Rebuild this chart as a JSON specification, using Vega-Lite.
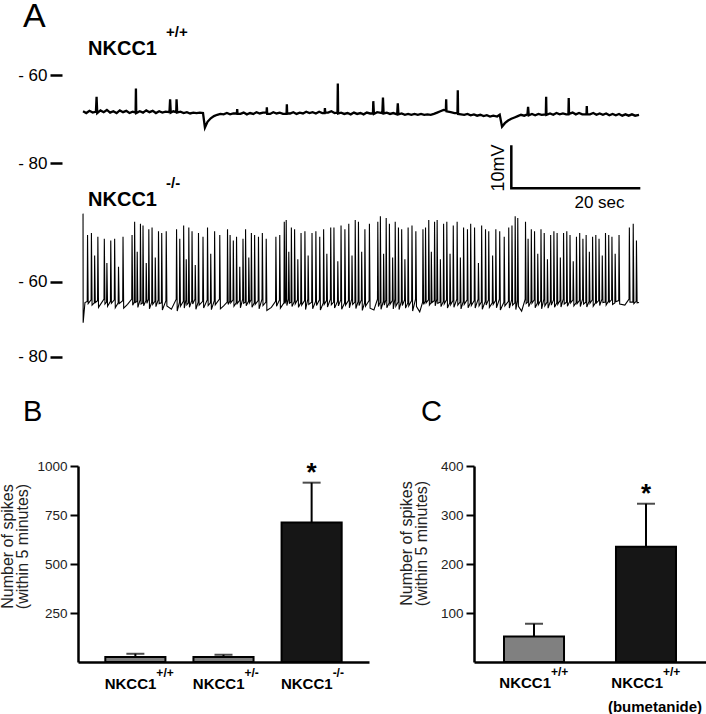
{
"$schema": "https://vega.github.io/schema/vega-lite/v6.json",
"autosize": {"type": "none"},
"padding": {"left": 78, "top": 40, "right": 628, "bottom": 674},
"background": "white",
"config": {"view": {"stroke": null}, "font": "Liberation Sans", "axis": {"labelFont": "Liberation Sans", "titleFont": "Liberation Sans", "grid": false}},
"bounds": "flush",
"spacing": 0,
"datasets": {
"a1": [{"t":0.0,"v":-68.2},{"t":0.5,"v":-68.6},{"t":1.0,"v":-68.1},{"t":1.5,"v":-68.5},{"t":2.0,"v":-68.3},{"t":2.1,"v":-64.9},{"t":2.2,"v":-68.6},{"t":2.7,"v":-68.0},{"t":3.2,"v":-68.4},{"t":3.7,"v":-67.9},{"t":4.2,"v":-68.5},{"t":4.7,"v":-68.2},{"t":5.2,"v":-68.6},{"t":5.7,"v":-68.0},{"t":6.2,"v":-68.4},{"t":6.7,"v":-68.1},{"t":7.2,"v":-68.6},{"t":7.7,"v":-68.3},{"t":8.15,"v":-68.5},{"t":8.2,"v":-63.0},{"t":8.25,"v":-68.6},{"t":8.8,"v":-68.2},{"t":9.3,"v":-68.5},{"t":9.8,"v":-68.0},{"t":10.3,"v":-68.4},{"t":10.8,"v":-68.1},{"t":11.3,"v":-68.6},{"t":11.8,"v":-68.2},{"t":12.3,"v":-68.5},{"t":12.8,"v":-68.3},{"t":13.4,"v":-68.4},{"t":13.5,"v":-65.5},{"t":13.6,"v":-68.5},{"t":14.0,"v":-68.2},{"t":14.45,"v":-68.4},{"t":14.5,"v":-65.5},{"t":14.6,"v":-68.5},{"t":15.1,"v":-68.3},{"t":15.6,"v":-68.6},{"t":16.1,"v":-68.4},{"t":16.6,"v":-68.7},{"t":17.1,"v":-68.5},{"t":17.6,"v":-68.6},{"t":18.1,"v":-68.5},{"t":18.6,"v":-68.6},{"t":18.9,"v":-71.9},{"t":19.3,"v":-70.6},{"t":19.8,"v":-69.8},{"t":20.3,"v":-69.3},{"t":20.8,"v":-69.0},{"t":21.3,"v":-68.8},{"t":21.8,"v":-68.9},{"t":22.3,"v":-68.6},{"t":22.8,"v":-68.9},{"t":23.3,"v":-68.7},{"t":23.85,"v":-68.7},{"t":23.9,"v":-67.7},{"t":23.95,"v":-68.8},{"t":24.4,"v":-68.8},{"t":24.9,"v":-68.5},{"t":25.4,"v":-68.9},{"t":25.9,"v":-68.6},{"t":26.4,"v":-68.8},{"t":26.9,"v":-68.4},{"t":27.4,"v":-68.7},{"t":27.9,"v":-68.5},{"t":28.45,"v":-68.5},{"t":28.5,"v":-67.3},{"t":28.55,"v":-68.8},{"t":29.0,"v":-68.8},{"t":29.5,"v":-68.4},{"t":30.0,"v":-68.7},{"t":30.5,"v":-68.5},{"t":31.0,"v":-68.8},{"t":31.55,"v":-68.8},{"t":31.6,"v":-66.6},{"t":31.65,"v":-68.7},{"t":32.1,"v":-68.7},{"t":32.6,"v":-68.4},{"t":33.1,"v":-68.8},{"t":33.6,"v":-68.5},{"t":34.1,"v":-68.7},{"t":34.6,"v":-68.3},{"t":35.1,"v":-68.6},{"t":35.6,"v":-68.4},{"t":36.1,"v":-68.7},{"t":36.6,"v":-68.3},{"t":37.1,"v":-68.6},{"t":37.45,"v":-68.6},{"t":37.5,"v":-67.5},{"t":37.55,"v":-68.5},{"t":38.0,"v":-68.5},{"t":38.5,"v":-68.2},{"t":39.0,"v":-68.6},{"t":39.45,"v":-68.5},{"t":39.5,"v":-61.9},{"t":39.55,"v":-68.7},{"t":40.0,"v":-68.5},{"t":40.5,"v":-68.8},{"t":41.0,"v":-68.6},{"t":41.5,"v":-68.9},{"t":42.0,"v":-68.5},{"t":42.5,"v":-68.8},{"t":43.0,"v":-68.6},{"t":43.5,"v":-68.9},{"t":44.0,"v":-68.5},{"t":44.5,"v":-68.7},{"t":44.95,"v":-68.7},{"t":45.0,"v":-65.9},{"t":45.1,"v":-68.8},{"t":45.6,"v":-68.4},{"t":46.4,"v":-68.6},{"t":46.5,"v":-65.1},{"t":46.6,"v":-68.7},{"t":47.1,"v":-68.5},{"t":47.6,"v":-68.8},{"t":48.1,"v":-68.6},{"t":48.7,"v":-68.9},{"t":48.8,"v":-66.4},{"t":48.9,"v":-68.9},{"t":49.4,"v":-68.7},{"t":49.9,"v":-69.0},{"t":50.4,"v":-68.8},{"t":50.9,"v":-69.0},{"t":51.4,"v":-68.8},{"t":51.9,"v":-69.0},{"t":52.4,"v":-68.8},{"t":52.9,"v":-69.0},{"t":53.4,"v":-68.9},{"t":53.9,"v":-69.0},{"t":54.4,"v":-68.8},{"t":54.9,"v":-68.5},{"t":55.4,"v":-68.2},{"t":55.9,"v":-67.9},{"t":56.25,"v":-68.0},{"t":56.3,"v":-65.5},{"t":56.35,"v":-68.2},{"t":57.0,"v":-68.4},{"t":57.6,"v":-68.6},{"t":58.05,"v":-68.6},{"t":58.1,"v":-63.4},{"t":58.15,"v":-68.8},{"t":58.6,"v":-68.9},{"t":59.1,"v":-69.0},{"t":59.6,"v":-68.8},{"t":60.1,"v":-69.1},{"t":60.6,"v":-68.9},{"t":61.1,"v":-69.2},{"t":61.6,"v":-69.0},{"t":62.1,"v":-69.3},{"t":62.6,"v":-69.1},{"t":63.1,"v":-69.4},{"t":63.6,"v":-69.2},{"t":64.2,"v":-69.4},{"t":64.6,"v":-69.0},{"t":64.96,"v":-71.7},{"t":65.4,"v":-70.9},{"t":65.9,"v":-70.3},{"t":66.4,"v":-69.9},{"t":66.9,"v":-69.6},{"t":67.4,"v":-69.3},{"t":67.9,"v":-69.0},{"t":68.4,"v":-69.2},{"t":68.9,"v":-68.9},{"t":69.0,"v":-67.2},{"t":69.1,"v":-69.1},{"t":69.6,"v":-68.8},{"t":70.1,"v":-69.1},{"t":70.6,"v":-68.8},{"t":71.1,"v":-69.0},{"t":71.75,"v":-68.9},{"t":71.8,"v":-64.9},{"t":71.85,"v":-69.0},{"t":72.4,"v":-68.7},{"t":72.9,"v":-69.0},{"t":73.4,"v":-68.6},{"t":73.9,"v":-68.9},{"t":74.4,"v":-68.7},{"t":74.9,"v":-68.9},{"t":75.25,"v":-68.9},{"t":75.3,"v":-65.2},{"t":75.35,"v":-68.8},{"t":75.9,"v":-68.5},{"t":76.4,"v":-68.9},{"t":76.9,"v":-68.6},{"t":77.4,"v":-68.9},{"t":78.05,"v":-68.9},{"t":78.1,"v":-67.0},{"t":78.15,"v":-68.9},{"t":78.6,"v":-68.9},{"t":79.1,"v":-68.6},{"t":79.6,"v":-69.0},{"t":80.1,"v":-68.7},{"t":80.6,"v":-69.0},{"t":81.1,"v":-68.7},{"t":81.6,"v":-69.1},{"t":82.1,"v":-68.8},{"t":82.6,"v":-69.1},{"t":83.1,"v":-68.8},{"t":83.6,"v":-69.2},{"t":84.1,"v":-68.9},{"t":84.6,"v":-69.2},{"t":85.1,"v":-68.9},{"t":85.6,"v":-69.2},{"t":86.2,"v":-69.0}],
"a2": [{"t":0,"v":-41.8},{"t":0.02,"v":-70.9},{"t":0.3,"v":-65.5},
{"t":0.65,"v":-65.2},{"t":0.7,"v":-47.5},{"t":0.8,"v":-65.8},{"t":1.25,"v":-64.8},{"t":1.3,"v":-47.0},{"t":1.4,"v":-66.2},{"t":1.75,"v":-65.6},{"t":1.8,"v":-53.0},{"t":1.9,"v":-65.5},{"t":2.25,"v":-65.0},{"t":2.3,"v":-48.0},{"t":2.4,"v":-66.8},{"t":3.25,"v":-64.6},{"t":3.3,"v":-48.5},{"t":3.4,"v":-65.9},{"t":3.65,"v":-65.4},{"t":3.7,"v":-55.0},{"t":3.8,"v":-66.5},{"t":4.25,"v":-65.2},{"t":4.3,"v":-49.0},{"t":4.4,"v":-65.7},{"t":4.85,"v":-64.8},{"t":4.9,"v":-48.5},{"t":5.0,"v":-66.9},{"t":5.45,"v":-65.6},{"t":5.5,"v":-56.0},{"t":5.6,"v":-65.8},{"t":6.15,"v":-65.0},{"t":6.2,"v":-48.0},{"t":6.3,"v":-67.0},{"t":6.9,"v":-66.0},
{"t":7.55,"v":-64.6},{"t":7.6,"v":-47.5},{"t":7.7,"v":-66.2},{"t":7.95,"v":-65.4},{"t":8.0,"v":-44.0},{"t":8.1,"v":-65.5},{"t":8.35,"v":-65.2},{"t":8.4,"v":-52.0},{"t":8.5,"v":-66.8},{"t":8.85,"v":-64.8},{"t":8.9,"v":-44.5},{"t":9.0,"v":-65.9},{"t":9.25,"v":-65.6},{"t":9.3,"v":-45.0},{"t":9.4,"v":-66.4},{"t":9.75,"v":-65.0},{"t":9.8,"v":-55.0},{"t":9.9,"v":-65.7},{"t":10.15,"v":-64.6},{"t":10.2,"v":-46.0},{"t":10.3,"v":-67.2},{"t":10.65,"v":-65.4},{"t":10.7,"v":-45.5},{"t":10.8,"v":-66.0},{"t":11.15,"v":-65.2},{"t":11.2,"v":-53.5},{"t":11.3,"v":-66.6},{"t":11.65,"v":-64.8},{"t":11.7,"v":-46.5},{"t":11.8,"v":-65.8},{"t":12.15,"v":-65.6},{"t":12.2,"v":-47.0},{"t":12.3,"v":-67.5},{"t":12.85,"v":-65.0},{"t":12.9,"v":-46.5},{"t":13.0,"v":-66.4},{"t":13.7,"v":-67.3},
{"t":14.45,"v":-64.6},{"t":14.5,"v":-46.0},{"t":14.6,"v":-67.8},{"t":14.95,"v":-65.4},{"t":15.0,"v":-48.5},{"t":15.1,"v":-66.5},{"t":15.55,"v":-65.2},{"t":15.6,"v":-45.0},{"t":15.7,"v":-67.0},{"t":15.95,"v":-64.8},{"t":16.0,"v":-54.0},{"t":16.1,"v":-66.1},{"t":16.35,"v":-65.6},{"t":16.4,"v":-45.5},{"t":16.5,"v":-66.8},{"t":16.85,"v":-65.0},{"t":16.9,"v":-46.5},{"t":17.0,"v":-65.9},{"t":17.35,"v":-64.6},{"t":17.4,"v":-55.5},{"t":17.5,"v":-67.3},{"t":17.85,"v":-65.4},{"t":17.9,"v":-47.0},{"t":18.0,"v":-66.2},{"t":18.55,"v":-65.2},{"t":18.6,"v":-48.0},{"t":18.7,"v":-67.0},{"t":19.25,"v":-64.8},{"t":19.3,"v":-45.5},{"t":19.4,"v":-66.3},{"t":19.75,"v":-65.6},{"t":19.8,"v":-52.5},{"t":19.9,"v":-67.4},{"t":20.35,"v":-65.0},{"t":20.4,"v":-46.5},{"t":20.5,"v":-66.1},{"t":21.15,"v":-64.6},{"t":21.2,"v":-47.5},{"t":21.3,"v":-67.2},{"t":21.8,"v":-66.4},
{"t":22.35,"v":-65.4},{"t":22.4,"v":-46.0},{"t":22.5,"v":-66.0},{"t":22.75,"v":-65.2},{"t":22.8,"v":-47.5},{"t":22.9,"v":-65.6},{"t":23.25,"v":-64.8},{"t":23.3,"v":-49.0},{"t":23.4,"v":-66.5},{"t":23.75,"v":-65.6},{"t":23.8,"v":-48.0},{"t":23.9,"v":-65.8},{"t":24.25,"v":-65.0},{"t":24.3,"v":-56.0},{"t":24.4,"v":-66.9},{"t":24.75,"v":-64.6},{"t":24.8,"v":-48.5},{"t":24.9,"v":-65.7},{"t":25.15,"v":-65.4},{"t":25.2,"v":-46.0},{"t":25.3,"v":-66.4},{"t":25.65,"v":-65.2},{"t":25.7,"v":-53.5},{"t":25.8,"v":-65.6},{"t":26.05,"v":-64.8},{"t":26.1,"v":-47.0},{"t":26.2,"v":-66.8},{"t":26.55,"v":-65.6},{"t":26.6,"v":-47.5},{"t":26.7,"v":-66.0},{"t":27.15,"v":-65.0},{"t":27.2,"v":-48.0},{"t":27.3,"v":-67.2},{"t":27.75,"v":-64.6},{"t":27.8,"v":-47.0},{"t":27.9,"v":-66.3},{"t":28.35,"v":-65.4},{"t":28.4,"v":-48.5},{"t":28.5,"v":-67.6},{"t":29.2,"v":-66.8},
{"t":29.85,"v":-65.2},{"t":29.9,"v":-48.0},{"t":30.0,"v":-66.5},{"t":30.45,"v":-64.8},{"t":30.5,"v":-47.5},{"t":30.6,"v":-67.0},{"t":31.15,"v":-65.6},{"t":31.2,"v":-44.0},{"t":31.3,"v":-65.8},{"t":31.45,"v":-65.0},{"t":31.5,"v":-43.5},{"t":31.6,"v":-66.3},{"t":31.85,"v":-64.6},{"t":31.9,"v":-52.0},{"t":32.0,"v":-65.7},{"t":32.25,"v":-65.4},{"t":32.3,"v":-45.5},{"t":32.4,"v":-66.6},{"t":32.75,"v":-65.2},{"t":32.8,"v":-46.0},{"t":32.9,"v":-65.9},{"t":33.25,"v":-64.8},{"t":33.3,"v":-54.0},{"t":33.4,"v":-66.8},{"t":33.75,"v":-65.6},{"t":33.8,"v":-47.0},{"t":33.9,"v":-66.2},{"t":34.35,"v":-65.0},{"t":34.4,"v":-46.5},{"t":34.5,"v":-67.4},{"t":34.85,"v":-64.6},{"t":34.9,"v":-53.0},{"t":35.0,"v":-66.0},{"t":35.45,"v":-65.4},{"t":35.5,"v":-47.0},{"t":35.6,"v":-67.2},{"t":36.05,"v":-65.2},{"t":36.1,"v":-46.5},{"t":36.2,"v":-66.3},{"t":36.65,"v":-64.8},{"t":36.7,"v":-48.0},{"t":36.8,"v":-67.5},{"t":37.25,"v":-65.6},{"t":37.3,"v":-46.0},{"t":37.4,"v":-66.0},{"t":37.75,"v":-65.0},{"t":37.8,"v":-52.5},{"t":37.9,"v":-66.7},{"t":38.35,"v":-64.6},{"t":38.4,"v":-45.5},{"t":38.5,"v":-66.1},{"t":38.85,"v":-65.4},{"t":38.9,"v":-45.5},{"t":39.0,"v":-67.0},{"t":39.45,"v":-65.2},{"t":39.5,"v":-54.5},{"t":39.6,"v":-66.4},{"t":39.95,"v":-64.8},{"t":40.0,"v":-45.0},{"t":40.1,"v":-67.3},{"t":40.55,"v":-65.6},{"t":40.6,"v":-46.0},{"t":40.7,"v":-66.2},{"t":41.15,"v":-65.0},{"t":41.2,"v":-44.5},{"t":41.3,"v":-66.9},{"t":41.65,"v":-64.6},{"t":41.7,"v":-53.0},{"t":41.8,"v":-66.0},{"t":42.15,"v":-65.4},{"t":42.2,"v":-43.5},{"t":42.3,"v":-67.1},{"t":42.65,"v":-65.2},{"t":42.7,"v":-44.0},{"t":42.8,"v":-66.3},{"t":43.15,"v":-64.8},{"t":43.2,"v":-52.0},{"t":43.3,"v":-67.6},{"t":43.65,"v":-65.6},{"t":43.7,"v":-46.0},{"t":43.8,"v":-66.5},{"t":44.35,"v":-65.0},{"t":44.4,"v":-44.5},{"t":44.5,"v":-67.0},{"t":45.1,"v":-67.5},
{"t":45.65,"v":-64.6},{"t":45.7,"v":-44.0},{"t":45.8,"v":-66.6},{"t":46.05,"v":-65.4},{"t":46.1,"v":-42.5},{"t":46.2,"v":-67.3},{"t":46.55,"v":-65.2},{"t":46.6,"v":-52.5},{"t":46.7,"v":-66.2},{"t":46.95,"v":-64.8},{"t":47.0,"v":-43.0},{"t":47.1,"v":-66.9},{"t":47.45,"v":-65.6},{"t":47.5,"v":-44.5},{"t":47.6,"v":-66.0},{"t":47.95,"v":-65.0},{"t":48.0,"v":-53.5},{"t":48.1,"v":-67.2},{"t":48.35,"v":-64.6},{"t":48.4,"v":-44.0},{"t":48.5,"v":-66.5},{"t":48.85,"v":-65.4},{"t":48.9,"v":-45.5},{"t":49.0,"v":-67.4},{"t":49.35,"v":-65.2},{"t":49.4,"v":-46.0},{"t":49.5,"v":-66.3},{"t":49.85,"v":-64.8},{"t":49.9,"v":-54.0},{"t":50.0,"v":-67.0},{"t":50.35,"v":-65.6},{"t":50.4,"v":-45.5},{"t":50.5,"v":-66.4},{"t":50.95,"v":-65.0},{"t":51.0,"v":-45.0},{"t":51.1,"v":-67.8},{"t":51.55,"v":-64.6},{"t":51.6,"v":-46.5},{"t":51.7,"v":-66.6},{"t":52.2,"v":-68.0},
{"t":52.65,"v":-65.4},{"t":52.7,"v":-46.0},{"t":52.8,"v":-66.0},{"t":53.05,"v":-65.2},{"t":53.1,"v":-45.5},{"t":53.2,"v":-65.6},{"t":53.55,"v":-64.8},{"t":53.6,"v":-43.5},{"t":53.7,"v":-66.2},{"t":53.95,"v":-65.6},{"t":54.0,"v":-52.0},{"t":54.1,"v":-65.5},{"t":54.45,"v":-65.0},{"t":54.5,"v":-44.0},{"t":54.6,"v":-66.4},{"t":54.85,"v":-64.6},{"t":54.9,"v":-43.5},{"t":55.0,"v":-65.7},{"t":55.35,"v":-65.4},{"t":55.4,"v":-54.0},{"t":55.5,"v":-66.6},{"t":55.85,"v":-65.2},{"t":55.9,"v":-44.5},{"t":56.0,"v":-65.9},{"t":56.35,"v":-64.8},{"t":56.4,"v":-44.0},{"t":56.5,"v":-67.0},{"t":56.85,"v":-65.6},{"t":56.9,"v":-52.5},{"t":57.0,"v":-66.1},{"t":57.35,"v":-65.0},{"t":57.4,"v":-45.0},{"t":57.5,"v":-66.8},{"t":57.95,"v":-64.6},{"t":58.0,"v":-44.0},{"t":58.1,"v":-66.2},{"t":58.45,"v":-65.4},{"t":58.5,"v":-53.5},{"t":58.6,"v":-67.2},{"t":58.95,"v":-65.2},{"t":59.0,"v":-45.5},{"t":59.1,"v":-66.0},{"t":59.55,"v":-64.8},{"t":59.6,"v":-46.0},{"t":59.7,"v":-66.9},{"t":60.05,"v":-65.6},{"t":60.1,"v":-44.5},{"t":60.2,"v":-66.3},{"t":60.65,"v":-65.0},{"t":60.7,"v":-45.5},{"t":60.8,"v":-67.0},{"t":61.25,"v":-64.6},{"t":61.3,"v":-55.0},{"t":61.4,"v":-66.4},{"t":61.75,"v":-65.4},{"t":61.8,"v":-45.0},{"t":61.9,"v":-67.3},{"t":62.35,"v":-65.2},{"t":62.4,"v":-46.0},{"t":62.5,"v":-66.2},{"t":62.85,"v":-64.8},{"t":62.9,"v":-46.5},{"t":63.0,"v":-66.8},{"t":63.45,"v":-65.6},{"t":63.5,"v":-53.0},{"t":63.6,"v":-66.0},{"t":63.95,"v":-65.0},{"t":64.0,"v":-46.0},{"t":64.1,"v":-66.9},{"t":64.55,"v":-64.6},{"t":64.6,"v":-46.5},{"t":64.7,"v":-67.5},{"t":65.25,"v":-65.4},{"t":65.3,"v":-48.0},{"t":65.4,"v":-66.4},{"t":65.95,"v":-65.2},{"t":66.0,"v":-45.5},{"t":66.1,"v":-67.0},{"t":66.45,"v":-64.8},{"t":66.5,"v":-45.0},{"t":66.6,"v":-66.2},{"t":66.95,"v":-65.6},{"t":67.0,"v":-42.5},{"t":67.1,"v":-67.4},{"t":67.35,"v":-65.0},{"t":67.4,"v":-43.0},{"t":67.5,"v":-66.5},{"t":68.0,"v":-67.8},
{"t":68.55,"v":-64.6},{"t":68.6,"v":-44.0},{"t":68.7,"v":-65.8},{"t":68.95,"v":-65.4},{"t":69.0,"v":-48.5},{"t":69.1,"v":-66.6},{"t":69.45,"v":-65.2},{"t":69.5,"v":-46.0},{"t":69.6,"v":-65.7},{"t":69.95,"v":-64.8},{"t":70.0,"v":-46.5},{"t":70.1,"v":-66.9},{"t":70.45,"v":-65.6},{"t":70.5,"v":-52.5},{"t":70.6,"v":-66.1},{"t":70.95,"v":-65.0},{"t":71.0,"v":-46.0},{"t":71.1,"v":-67.2},{"t":71.45,"v":-64.6},{"t":71.5,"v":-47.0},{"t":71.6,"v":-66.4},{"t":71.95,"v":-65.4},{"t":72.0,"v":-54.0},{"t":72.1,"v":-67.0},{"t":72.45,"v":-65.2},{"t":72.5,"v":-47.5},{"t":72.6,"v":-66.2},{"t":72.95,"v":-64.8},{"t":73.0,"v":-46.5},{"t":73.1,"v":-66.8},{"t":73.45,"v":-65.6},{"t":73.5,"v":-47.0},{"t":73.6,"v":-66.0},{"t":73.95,"v":-65.0},{"t":74.0,"v":-53.5},{"t":74.1,"v":-66.7},{"t":74.45,"v":-64.6},{"t":74.5,"v":-47.0},{"t":74.6,"v":-65.9},{"t":74.95,"v":-65.4},{"t":75.0,"v":-46.5},{"t":75.1,"v":-66.5},{"t":75.45,"v":-65.2},{"t":75.5,"v":-47.5},{"t":75.6,"v":-65.6},{"t":75.95,"v":-64.8},{"t":76.0,"v":-54.5},{"t":76.1,"v":-66.4},{"t":76.45,"v":-65.6},{"t":76.5,"v":-48.0},{"t":76.6,"v":-65.8},{"t":76.95,"v":-65.0},{"t":77.0,"v":-47.0},{"t":77.1,"v":-66.6},{"t":77.45,"v":-64.6},{"t":77.5,"v":-48.5},{"t":77.6,"v":-65.9},{"t":77.95,"v":-65.4},{"t":78.0,"v":-47.5},{"t":78.1,"v":-66.7},{"t":78.45,"v":-65.2},{"t":78.5,"v":-52.0},{"t":78.6,"v":-65.7},{"t":78.95,"v":-64.8},{"t":79.0,"v":-48.0},{"t":79.1,"v":-66.5},{"t":79.45,"v":-65.6},{"t":79.5,"v":-47.5},{"t":79.6,"v":-65.6},{"t":79.95,"v":-65.0},{"t":80.0,"v":-48.5},{"t":80.1,"v":-66.3},{"t":80.45,"v":-64.6},{"t":80.5,"v":-53.0},{"t":80.6,"v":-65.5},{"t":80.95,"v":-65.4},{"t":81.0,"v":-47.0},{"t":81.1,"v":-66.2},{"t":81.45,"v":-65.2},{"t":81.5,"v":-47.5},{"t":81.6,"v":-65.4},{"t":81.95,"v":-64.8},{"t":82.0,"v":-48.0},{"t":82.1,"v":-66.0},{"t":82.45,"v":-65.6},{"t":82.5,"v":-52.5},{"t":82.6,"v":-65.3},{"t":83.05,"v":-65.0},{"t":83.1,"v":-47.5},{"t":83.2,"v":-65.9},{"t":84.0,"v":-66.2},
{"t":84.65,"v":-64.6},{"t":84.7,"v":-45.5},{"t":84.8,"v":-65.4},{"t":85.25,"v":-65.4},{"t":85.3,"v":-44.5},{"t":85.4,"v":-65.8},{"t":85.75,"v":-65.2},{"t":85.8,"v":-49.0},{"t":85.9,"v":-65.6},{"t":86.2,"v":-65.5}],
"scalebar": [{"t":66.4,"v":-75.9,"o":1},{"t":66.4,"v":-85.7,"o":2},{"t":86.4,"v":-85.7,"o":3}],
"b": [{"g":"wt","mean":26,"upper":42,"sup":"+/+","sig":""},{"g":"het","mean":26,"upper":37,"sup":"+/-","sig":""},{"g":"ko","mean":712,"upper":915,"sup":"-/-","sig":"*"}],
"c": [{"g":"ctrl","mean":52,"upper":78,"sup":"+/+","note":"","sig":""},{"g":"bum","mean":235,"upper":323,"sup":"+/+","note":"(bumetanide)","sig":"*"}]
},
"vconcat": [
{
"width": 562, "height": 167.2,
"title": {"text": "A", "anchor": "start", "frame": "group", "fontSize": 34, "fontWeight": "normal", "font": "Liberation Sans", "color": "black", "dx": -55, "dy": 49, "offset": 13, "baseline": "alphabetic"},
"layer": [
{"data": {"name": "a1"}, "mark": {"type": "line", "color": "black", "strokeWidth": 2.3},
 "encoding": {"x": {"field": "t", "type": "quantitative", "scale": {"domain": [-0.78, 86.35], "nice": false, "zero": false}, "axis": null},
  "y": {"field": "v", "type": "quantitative", "scale": {"domain": [-90, -52], "nice": false, "zero": false},
   "axis": {"values": [-60, -80], "labelExpr": "'- ' + abs(datum.value)", "tickSize": 12, "tickWidth": 2.5, "tickColor": "black", "domain": false, "offset": 16, "labelPadding": 3, "labelFontSize": 17, "labelColor": "black", "title": null}}}},
{"data": {"name": "scalebar"}, "mark": {"type": "line", "color": "black", "strokeWidth": 2.5},
 "encoding": {"x": {"field": "t", "type": "quantitative", "axis": null},
  "y": {"field": "v", "type": "quantitative", "axis": {"values": [-60, -80], "labelExpr": "'- ' + abs(datum.value)", "tickSize": 12, "tickWidth": 2.5, "tickColor": "black", "domain": false, "offset": 16, "labelPadding": 3, "labelFontSize": 17, "labelColor": "black", "title": null}},
  "order": {"field": "o"}}},
{"data": {"values": [{"label": "NKCC1", "sup": "+/+", "mv": "10mV", "sec": "20 sec"}]},
 "layer": [
  {"mark": {"type": "text", "align": "left", "baseline": "alphabetic", "fontSize": 20, "fontWeight": "bold", "color": "black"},
   "encoding": {"x": {"datum": 0.78, "type": "quantitative", "axis": null}, "y": {"datum": -55.45, "type": "quantitative", "axis": {"values": [-60, -80], "labelExpr": "'- ' + abs(datum.value)", "tickSize": 12, "tickWidth": 2.5, "tickColor": "black", "domain": false, "offset": 16, "labelPadding": 3, "labelFontSize": 17, "labelColor": "black", "title": null}}, "text": {"field": "label"}}},
  {"mark": {"type": "text", "align": "left", "baseline": "alphabetic", "fontSize": 15, "fontWeight": "bold", "color": "black"},
   "encoding": {"x": {"datum": 12.87, "type": "quantitative", "axis": null}, "y": {"datum": -51.43, "type": "quantitative", "axis": {"values": [-60, -80], "labelExpr": "'- ' + abs(datum.value)", "tickSize": 12, "tickWidth": 2.5, "tickColor": "black", "domain": false, "offset": 16, "labelPadding": 3, "labelFontSize": 17, "labelColor": "black", "title": null}}, "text": {"field": "sup"}}},
  {"mark": {"type": "text", "align": "center", "baseline": "alphabetic", "fontSize": 18, "angle": 270, "color": "black"},
   "encoding": {"x": {"datum": 65.27, "type": "quantitative", "axis": null}, "y": {"datum": -81.09, "type": "quantitative", "axis": {"values": [-60, -80], "labelExpr": "'- ' + abs(datum.value)", "tickSize": 12, "tickWidth": 2.5, "tickColor": "black", "domain": false, "offset": 16, "labelPadding": 3, "labelFontSize": 17, "labelColor": "black", "title": null}}, "text": {"field": "mv"}}},
  {"mark": {"type": "text", "align": "center", "baseline": "alphabetic", "fontSize": 17, "color": "black"},
   "encoding": {"x": {"datum": 80.07, "type": "quantitative", "axis": null}, "y": {"datum": -90.18, "type": "quantitative", "axis": {"values": [-60, -80], "labelExpr": "'- ' + abs(datum.value)", "tickSize": 12, "tickWidth": 2.5, "tickColor": "black", "domain": false, "offset": 16, "labelPadding": 3, "labelFontSize": 17, "labelColor": "black", "title": null}}, "text": {"field": "sec"}}}
 ]}
]
},
{
"width": 562, "height": 257.8,
"layer": [
{"data": {"name": "a2"}, "mark": {"type": "line", "color": "black", "strokeWidth": 1.1},
 "encoding": {"x": {"field": "t", "type": "quantitative", "scale": {"domain": [-0.78, 86.35], "nice": false, "zero": false}, "axis": null},
  "y": {"field": "v", "type": "quantitative", "scale": {"domain": [-109.05, -40.3], "nice": false, "zero": false},
   "axis": {"values": [-60, -80], "labelExpr": "'- ' + abs(datum.value)", "tickSize": 12, "tickWidth": 2.5, "tickColor": "black", "domain": false, "offset": 16, "labelPadding": 3, "labelFontSize": 17, "labelColor": "black", "title": null}}}},
{"data": {"values": [{"label": "NKCC1", "sup": "-/-"}]},
 "layer": [
  {"mark": {"type": "text", "align": "left", "baseline": "alphabetic", "fontSize": 20, "fontWeight": "bold", "color": "black"},
   "encoding": {"x": {"datum": 0.78, "type": "quantitative", "axis": null}, "y": {"datum": -39.71, "type": "quantitative", "axis": {"values": [-60, -80], "labelExpr": "'- ' + abs(datum.value)", "tickSize": 12, "tickWidth": 2.5, "tickColor": "black", "domain": false, "offset": 16, "labelPadding": 3, "labelFontSize": 17, "labelColor": "black", "title": null}}, "text": {"field": "label"}}},
  {"mark": {"type": "text", "align": "left", "baseline": "alphabetic", "fontSize": 15, "fontWeight": "bold", "color": "black"},
   "encoding": {"x": {"datum": 12.87, "type": "quantitative", "axis": null}, "y": {"datum": -34.91, "type": "quantitative", "axis": {"values": [-60, -80], "labelExpr": "'- ' + abs(datum.value)", "tickSize": 12, "tickWidth": 2.5, "tickColor": "black", "domain": false, "offset": 16, "labelPadding": 3, "labelFontSize": 17, "labelColor": "black", "title": null}}, "text": {"field": "sup"}}}
 ]}
]
},
{
"resolve": {"scale": {"color": "independent"}},
"hconcat": [
{
"width": 291, "height": 196,
"data": {"name": "b"},
"title": {"text": "B", "anchor": "start", "frame": "group", "fontSize": 29, "fontWeight": "normal", "font": "Liberation Sans", "color": "black", "dx": -55, "dy": 33, "offset": 42, "baseline": "alphabetic"},
"encoding": {"x": {"field": "g", "type": "nominal", "sort": null, "scale": {"paddingInner": 0.318, "paddingOuter": 0.31},
  "axis": {"labels": false, "ticks": false, "domain": true, "domainWidth": 2.5, "domainColor": "black", "title": null}}},
"layer": [
{"mark": {"type": "bar", "stroke": "black", "strokeWidth": 2},
 "encoding": {"y": {"field": "mean", "type": "quantitative", "scale": {"domain": [0, 1000], "nice": false},
   "axis": {"values": [250, 500, 750, 1000], "format": "d", "tickSize": 8, "tickWidth": 2, "tickColor": "black", "domainWidth": 2.5, "domainColor": "black", "labelFontSize": 13.5, "labelPadding": 3, "labelColor": "#222", "title": ["Number of spikes", "(within 5 minutes)"], "titleFontSize": 16, "titleFontWeight": "normal", "titleColor": "#222", "titleLineHeight": 15, "titleX": -63, "titleY": 80}},
  "color": {"field": "g", "type": "nominal", "scale": {"domain": ["wt", "het", "ko"], "range": ["#808080", "#808080", "#161616"]}, "legend": null}}},
{"mark": {"type": "rule", "color": "black", "strokeWidth": 2},
 "encoding": {"y": {"field": "mean", "type": "quantitative", "axis": {"values": [250, 500, 750, 1000], "format": "d", "tickSize": 8, "tickWidth": 2, "tickColor": "black", "domainWidth": 2.5, "domainColor": "black", "labelFontSize": 13.5, "labelPadding": 3, "labelColor": "#222", "title": ["Number of spikes", "(within 5 minutes)"], "titleFontSize": 16, "titleFontWeight": "normal", "titleColor": "#222", "titleLineHeight": 15, "titleX": -63, "titleY": 80}}, "y2": {"field": "upper"}}},
{"mark": {"type": "tick", "color": "black", "size": 18, "thickness": 2},
 "encoding": {"y": {"field": "upper", "type": "quantitative", "axis": {"values": [250, 500, 750, 1000], "format": "d", "tickSize": 8, "tickWidth": 2, "tickColor": "black", "domainWidth": 2.5, "domainColor": "black", "labelFontSize": 13.5, "labelPadding": 3, "labelColor": "#222", "title": ["Number of spikes", "(within 5 minutes)"], "titleFontSize": 16, "titleFontWeight": "normal", "titleColor": "#222", "titleLineHeight": 15, "titleX": -63, "titleY": 80}}}},
{"mark": {"type": "text", "fontSize": 26, "fontWeight": "bold", "baseline": "alphabetic", "dy": -2, "color": "black"},
 "encoding": {"y": {"field": "upper", "type": "quantitative", "axis": {"values": [250, 500, 750, 1000], "format": "d", "tickSize": 8, "tickWidth": 2, "tickColor": "black", "domainWidth": 2.5, "domainColor": "black", "labelFontSize": 13.5, "labelPadding": 3, "labelColor": "#222", "title": ["Number of spikes", "(within 5 minutes)"], "titleFontSize": 16, "titleFontWeight": "normal", "titleColor": "#222", "titleLineHeight": 15, "titleX": -63, "titleY": 80}}, "text": {"field": "sig"}}},
{"mark": {"type": "text", "fontSize": 15, "fontWeight": "bold", "align": "right", "baseline": "alphabetic", "dx": 21, "dy": 27, "color": "black", "text": "NKCC1"},
 "encoding": {"y": {"datum": 0, "type": "quantitative", "axis": {"values": [250, 500, 750, 1000], "format": "d", "tickSize": 8, "tickWidth": 2, "tickColor": "black", "domainWidth": 2.5, "domainColor": "black", "labelFontSize": 13.5, "labelPadding": 3, "labelColor": "#222", "title": ["Number of spikes", "(within 5 minutes)"], "titleFontSize": 16, "titleFontWeight": "normal", "titleColor": "#222", "titleLineHeight": 15, "titleX": -63, "titleY": 80}}}},
{"mark": {"type": "text", "fontSize": 12, "fontWeight": "bold", "align": "left", "baseline": "alphabetic", "dx": 21, "dy": 15, "color": "black"},
 "encoding": {"y": {"datum": 0, "type": "quantitative", "axis": {"values": [250, 500, 750, 1000], "format": "d", "tickSize": 8, "tickWidth": 2, "tickColor": "black", "domainWidth": 2.5, "domainColor": "black", "labelFontSize": 13.5, "labelPadding": 3, "labelColor": "#222", "title": ["Number of spikes", "(within 5 minutes)"], "titleFontSize": 16, "titleFontWeight": "normal", "titleColor": "#222", "titleLineHeight": 15, "titleX": -63, "titleY": 80}}, "text": {"field": "sup"}}}
]
},
{
"width": 232, "height": 196,
"data": {"name": "c"},
"title": {"text": "C", "anchor": "start", "frame": "group", "fontSize": 29, "fontWeight": "normal", "font": "Liberation Sans", "color": "black", "dx": -53, "dy": 33, "offset": 42, "baseline": "alphabetic"},
"encoding": {"x": {"field": "g", "type": "nominal", "sort": null, "scale": {"paddingInner": 0.464, "paddingOuter": 0.268},
  "axis": {"labels": false, "ticks": false, "domain": true, "domainWidth": 2.5, "domainColor": "black", "title": null}}},
"layer": [
{"mark": {"type": "bar", "stroke": "black", "strokeWidth": 2},
 "encoding": {"y": {"field": "mean", "type": "quantitative", "scale": {"domain": [0, 400], "nice": false},
   "axis": {"values": [100, 200, 300, 400], "format": "d", "tickSize": 8, "tickWidth": 2, "tickColor": "black", "domainWidth": 2.5, "domainColor": "black", "labelFontSize": 13.5, "labelPadding": 3, "labelColor": "#222", "title": ["Number of spikes", "(within 5 minutes)"], "titleFontSize": 16, "titleFontWeight": "normal", "titleColor": "#222", "titleLineHeight": 15, "titleX": -60, "titleY": 77}},
  "color": {"field": "g", "type": "nominal", "scale": {"domain": ["ctrl", "bum"], "range": ["#808080", "#161616"]}, "legend": null}}},
{"mark": {"type": "rule", "color": "black", "strokeWidth": 2},
 "encoding": {"y": {"field": "mean", "type": "quantitative", "axis": {"values": [100, 200, 300, 400], "format": "d", "tickSize": 8, "tickWidth": 2, "tickColor": "black", "domainWidth": 2.5, "domainColor": "black", "labelFontSize": 13.5, "labelPadding": 3, "labelColor": "#222", "title": ["Number of spikes", "(within 5 minutes)"], "titleFontSize": 16, "titleFontWeight": "normal", "titleColor": "#222", "titleLineHeight": 15, "titleX": -60, "titleY": 77}}, "y2": {"field": "upper"}}},
{"mark": {"type": "tick", "color": "black", "size": 18, "thickness": 2},
 "encoding": {"y": {"field": "upper", "type": "quantitative", "axis": {"values": [100, 200, 300, 400], "format": "d", "tickSize": 8, "tickWidth": 2, "tickColor": "black", "domainWidth": 2.5, "domainColor": "black", "labelFontSize": 13.5, "labelPadding": 3, "labelColor": "#222", "title": ["Number of spikes", "(within 5 minutes)"], "titleFontSize": 16, "titleFontWeight": "normal", "titleColor": "#222", "titleLineHeight": 15, "titleX": -60, "titleY": 77}}}},
{"mark": {"type": "text", "fontSize": 26, "fontWeight": "bold", "baseline": "alphabetic", "dy": -2, "color": "black"},
 "encoding": {"y": {"field": "upper", "type": "quantitative", "axis": {"values": [100, 200, 300, 400], "format": "d", "tickSize": 8, "tickWidth": 2, "tickColor": "black", "domainWidth": 2.5, "domainColor": "black", "labelFontSize": 13.5, "labelPadding": 3, "labelColor": "#222", "title": ["Number of spikes", "(within 5 minutes)"], "titleFontSize": 16, "titleFontWeight": "normal", "titleColor": "#222", "titleLineHeight": 15, "titleX": -60, "titleY": 77}}, "text": {"field": "sig"}}},
{"mark": {"type": "text", "fontSize": 15, "fontWeight": "bold", "align": "right", "baseline": "alphabetic", "dx": 17, "dy": 26, "color": "black", "text": "NKCC1"},
 "encoding": {"y": {"datum": 0, "type": "quantitative", "axis": {"values": [100, 200, 300, 400], "format": "d", "tickSize": 8, "tickWidth": 2, "tickColor": "black", "domainWidth": 2.5, "domainColor": "black", "labelFontSize": 13.5, "labelPadding": 3, "labelColor": "#222", "title": ["Number of spikes", "(within 5 minutes)"], "titleFontSize": 16, "titleFontWeight": "normal", "titleColor": "#222", "titleLineHeight": 15, "titleX": -60, "titleY": 77}}}},
{"mark": {"type": "text", "fontSize": 12, "fontWeight": "bold", "align": "left", "baseline": "alphabetic", "dx": 17, "dy": 14, "color": "black"},
 "encoding": {"y": {"datum": 0, "type": "quantitative", "axis": {"values": [100, 200, 300, 400], "format": "d", "tickSize": 8, "tickWidth": 2, "tickColor": "black", "domainWidth": 2.5, "domainColor": "black", "labelFontSize": 13.5, "labelPadding": 3, "labelColor": "#222", "title": ["Number of spikes", "(within 5 minutes)"], "titleFontSize": 16, "titleFontWeight": "normal", "titleColor": "#222", "titleLineHeight": 15, "titleX": -60, "titleY": 77}}, "text": {"field": "sup"}}},
{"mark": {"type": "text", "fontSize": 15, "fontWeight": "bold", "align": "center", "baseline": "alphabetic", "dx": 9, "dy": 50, "color": "black"},
 "encoding": {"y": {"datum": 0, "type": "quantitative", "axis": {"values": [100, 200, 300, 400], "format": "d", "tickSize": 8, "tickWidth": 2, "tickColor": "black", "domainWidth": 2.5, "domainColor": "black", "labelFontSize": 13.5, "labelPadding": 3, "labelColor": "#222", "title": ["Number of spikes", "(within 5 minutes)"], "titleFontSize": 16, "titleFontWeight": "normal", "titleColor": "#222", "titleLineHeight": 15, "titleX": -60, "titleY": 77}}, "text": {"field": "note"}}}
]
}
],
"bounds": "flush",
"spacing": 105
}
]
}
